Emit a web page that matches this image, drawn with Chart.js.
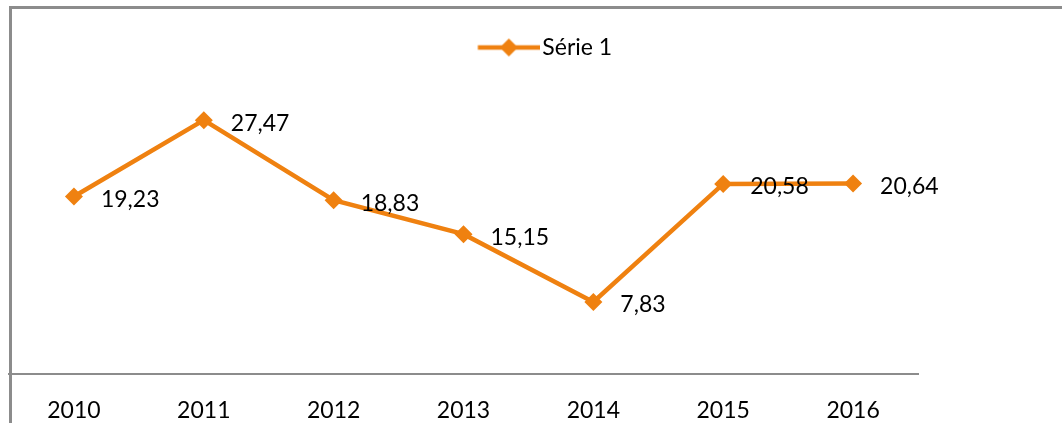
<!DOCTYPE html>
<html>
<head>
<meta charset="utf-8">
<script src="https://cdn.jsdelivr.net/npm/chart.js@4/dist/chart.umd.min.js"></script>
<style>
  html, body { margin: 0; padding: 0; background: #fff; }
  #wrap { position: relative; width: 1062px; height: 423px; overflow: hidden; }
  #frame { position: absolute; left: 9px; top: 6px; width: 1100px; height: 500px;
           border-top: 3px solid #8c8c8c; border-left: 3px solid #8c8c8c; box-sizing: border-box; }
  canvas { position: absolute; left: 0; top: 0; }
</style>
</head>
<body>
<div id="wrap">
  <div id="frame"></div>
  <canvas id="chart" width="1062" height="446"></canvas>
</div>
<script>
const years = ['2010', '2011', '2012', '2013', '2014', '2015', '2016'];
const serie1 = [19.23, 27.47, 18.83, 15.15, 7.83, 20.58, 20.64];
const seriesName = 'Série 1';
const orange = '#ef8110';

// symbole de légende : trait + losange (débordant vers le texte)
const legendImg = document.createElement('canvas');
legendImg.width = 91;
legendImg.height = 20;
(function () {
  const c = legendImg.getContext('2d');
  c.strokeStyle = orange;
  c.lineWidth = 4.5;
  c.beginPath();
  c.moveTo(28.5, 10);
  c.lineTo(91, 10);
  c.stroke();
  c.fillStyle = orange;
  c.beginPath();
  c.moveTo(59.5, 1);
  c.lineTo(68.5, 10);
  c.lineTo(59.5, 19);
  c.lineTo(50.5, 10);
  c.closePath();
  c.fill();
})();

// étiquettes de données à droite des points
const valueLabels = {
  id: 'valueLabels',
  afterDatasetsDraw(chart) {
    const ctx = chart.ctx;
    const meta = chart.getDatasetMeta(0);
    ctx.save();
    ctx.font = '23px Lato';
    ctx.fillStyle = '#000';
    ctx.textBaseline = 'middle';
    ctx.textAlign = 'left';
    meta.data.forEach((pt, i) => {
      const txt = serie1[i].toFixed(2).replace('.', ',');
      ctx.fillText(txt, pt.x + 27, pt.y + 3);
    });
    ctx.restore();
  }
};

new Chart(document.getElementById('chart'), {
  type: 'line',
  data: {
    labels: years,
    datasets: [{
      label: seriesName,
      data: serie1,
      borderColor: orange,
      backgroundColor: orange,
      borderWidth: 4.5,
      pointStyle: 'rectRot',
      pointRadius: 9,
      pointHoverRadius: 9,
      pointBorderWidth: 0,
      tension: 0
    }]
  },
  options: {
    responsive: false,
    animation: false,
    layout: { padding: { left: 9, right: 0, top: 26, bottom: 0 } },
    plugins: {
      tooltip: { enabled: false },
      legend: {
        position: 'top',
        labels: {
          usePointStyle: true,
          pointStyle: legendImg,
          pointStyleWidth: 72,
          color: '#000',
          font: { family: 'Lato', size: 23 },
          padding: 10
        }
      }
    },
    scales: {
      x: {
        offset: true,
        grid: { display: false, drawTicks: false },
        border: { display: true, color: '#8c8c8c', width: 2 },
        ticks: { color: '#000', font: { family: 'Lato', size: 23 }, padding: 22 }
      },
      y: {
        display: false,
        min: 0,
        max: 33
      },
      // axe vide à droite : réserve l'espace blanc sans décaler la légende
      yRight: {
        position: 'right',
        min: 0,
        max: 1,
        grid: { display: false },
        border: { display: false },
        ticks: { display: false },
        afterFit(scale) { scale.width = 144; }
      }
    }
  },
  plugins: [valueLabels]
});
</script>
</body>
</html>
